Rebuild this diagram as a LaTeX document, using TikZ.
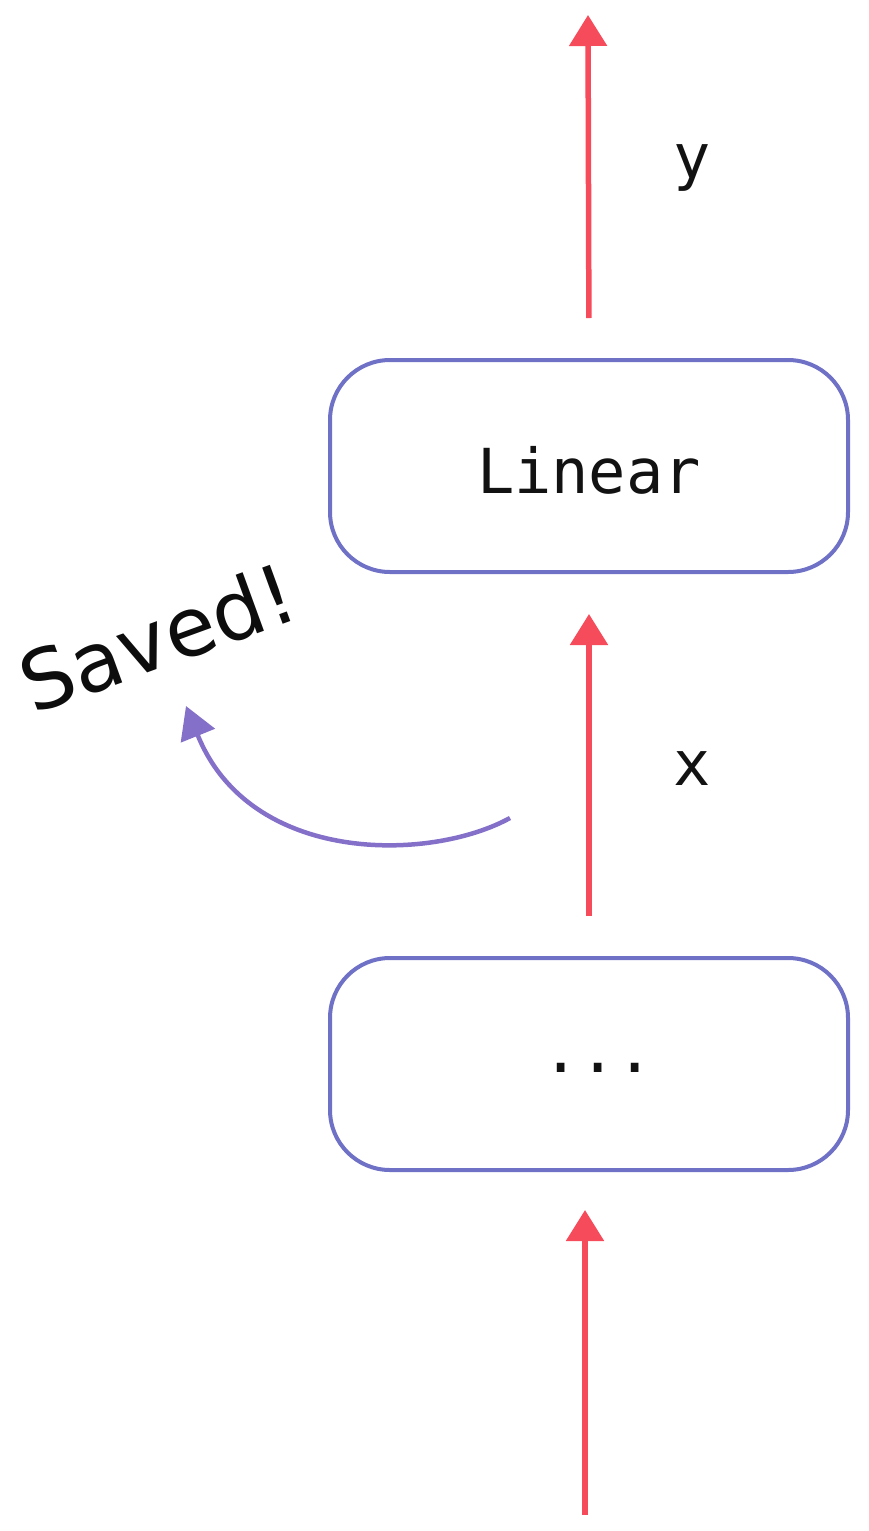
\documentclass[tikz,border=0pt]{standalone}
\usepackage{fontspec}
\setmainfont{DejaVu Sans}
\newfontfamily\monof{DejaVu Sans Mono}
\usetikzlibrary{arrows.meta}
\definecolor{flowred}{HTML}{F54B5A}
\definecolor{boxblue}{HTML}{6E71C6}
\definecolor{savepurple}{HTML}{8470C8}
\tikzset{
  layerbox/.style={draw=boxblue, line width=4pt, rounded corners=60pt, minimum width=518pt, minimum height=212pt, inner sep=0pt, fill=white},
  flow/.style={draw=flowred, line width=5.5pt, -{Triangle[length=31pt,width=37pt]}},
  saveflow/.style={draw=savepurple, line width=4.5pt, -{Triangle[length=32pt,width=36pt]}},
  mono/.style={font=\monof\fontsize{62}{70}\selectfont, text=black!93, inner sep=0pt},
}
\begin{document}
\begin{tikzpicture}[x=1pt,y=-1pt]
\useasboundingbox (0,0) rectangle (869,1531);
\node[layerbox] (lin) at (589,466) {};
\node[layerbox] (dots) at (589,1064) {};
\node[mono, anchor=base] (lintext) at (589,493) {Linear};
\node[mono, anchor=base] (dotstext) at (598,1072) {...};
\node[mono, anchor=base] (ylab) at (692,178) {y};
\node[mono, anchor=base] (xlab) at (692,785) {x};
\node[font=\fontsize{82}{90}\selectfont, text=black!95, anchor=base, rotate=20, inner sep=0pt] (saved) at (168,666) {Saved!};
\coordinate (ytop) at (588,15);
\coordinate (inp) at (585,1515);
\coordinate (inend) at (585,1170);
\coordinate (savestart) at (510,818);
\coordinate (savetip) at (186,706);
\draw[flow, shorten <=40pt] (lin.north) -- (ytop);
\draw[flow, shorten <=40pt, shorten >=40pt] (dots.north) -- (lin.south);
\draw[flow, shorten >=40pt] (inp) -- (inend);
\draw[saveflow] (savestart) .. controls (430,862) and (250,865) .. (savetip);
\end{tikzpicture}
\end{document}
